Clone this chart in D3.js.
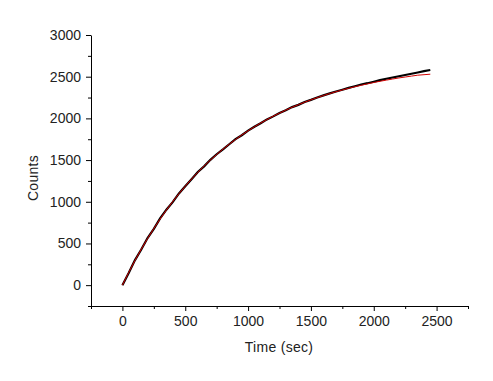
<!DOCTYPE html>
<html><head><meta charset="utf-8">
<script src="https://cdn.jsdelivr.net/npm/d3@7"></script>
<style>body{margin:0;background:#fff}svg{display:block}text{font-family:"Liberation Sans",Arial,sans-serif}</style>
</head><body><svg id="c" width="493" height="381"></svg>
<script>
const dataTime = [0,50,100,150,200,250,300,350,400,450,500,550,600,650,700,750,800,850,900,950,1000,1050,1100,1150,1200,1250,1300,1350,1400,1450,1500,1550,1600,1650,1700,1750,1800,1850,1900,1950,2000,2050,2100,2150,2200,2250,2300,2350,2400,2450];
const dataCounts = [0,145,300,428,565,676,800,905,995,1100,1185,1270,1358,1425,1503,1570,1628,1690,1752,1798,1853,1900,1942,1988,2024,2065,2098,2135,2162,2196,2222,2250,2276,2300,2322,2344,2366,2386,2406,2422,2440,2458,2475,2490,2505,2520,2535,2550,2566,2580];
const fitTime = [0,50,100,150,200,250,300,350,400,450,500,550,600,650,700,750,800,850,900,950,1000,1050,1100,1150,1200,1250,1300,1350,1400,1450,1500,1550,1600,1650,1700,1750,1800,1850,1900,1950,2000,2050,2100,2150,2200,2250,2300,2350,2400,2450];
const fitCounts = [0,152,296,431,559,679,793,901,1002,1097,1187,1272,1353,1428,1500,1567,1631,1691,1747,1801,1851,1899,1944,1986,2026,2063,2099,2133,2164,2194,2222,2249,2274,2298,2320,2341,2361,2380,2397,2414,2430,2445,2459,2472,2485,2496,2507,2518,2524,2530];
const xTicks = [0,500,1000,1500,2000,2500];
const yTicks = [0,500,1000,1500,2000,2500,3000];
const xMinor = [-250,250,750,1250,1750,2250,2750];
const yMinor = [-250,250,750,1250,1750,2250,2750];

const svg = d3.select("#c");
const x = d3.scaleLinear().domain([-250,2750]).range([91,468]);
const y = d3.scaleLinear().domain([-250,3000]).range([306,35]);

svg.append("g").attr("transform","translate(0,306)")
  .call(d3.axisBottom(x).tickValues(xMinor).tickSize(3).tickFormat(""))
  .call(g=>g.select(".domain").remove());
svg.append("g").attr("transform","translate(91,0)")
  .call(d3.axisLeft(y).tickValues(yMinor).tickSize(3).tickFormat(""))
  .call(g=>g.select(".domain").remove());

const xa = svg.append("g").attr("transform","translate(0,306)")
  .call(d3.axisBottom(x).tickValues(xTicks).tickSize(5).tickSizeOuter(0).tickPadding(5).tickFormat(d3.format("d")));
const ya = svg.append("g").attr("transform","translate(91,0)")
  .call(d3.axisLeft(y).tickValues(yTicks).tickSize(5).tickSizeOuter(0).tickPadding(5).tickFormat(d3.format("d")));
[xa,ya].forEach(a=>{
  a.selectAll("text").attr("font-size",14).attr("fill","#222").style("font-family","'Liberation Sans',Arial,sans-serif");
  a.selectAll("line,path").attr("stroke","#000");
});

const line = d3.line().x(d=>x(d[0])).y(d=>y(d[1]));
svg.append("path").datum(dataTime.map((t,i)=>[t,dataCounts[i]]))
  .attr("d",line).attr("fill","none").attr("stroke","#000").attr("stroke-width",2.2);
svg.append("path").datum(fitTime.map((t,i)=>[t,fitCounts[i]]))
  .attr("d",line).attr("fill","none").attr("stroke","#d00000").attr("stroke-width",1);

svg.append("text").attr("x",279).attr("y",352).attr("text-anchor","middle")
  .attr("font-size",14).attr("fill","#222").attr("letter-spacing",0.3).text("Time (sec)");
svg.append("text").attr("transform","translate(38,178) rotate(-90)").attr("text-anchor","middle")
  .attr("font-size",14).attr("fill","#222").attr("letter-spacing",0.3).text("Counts");
</script></body></html>
